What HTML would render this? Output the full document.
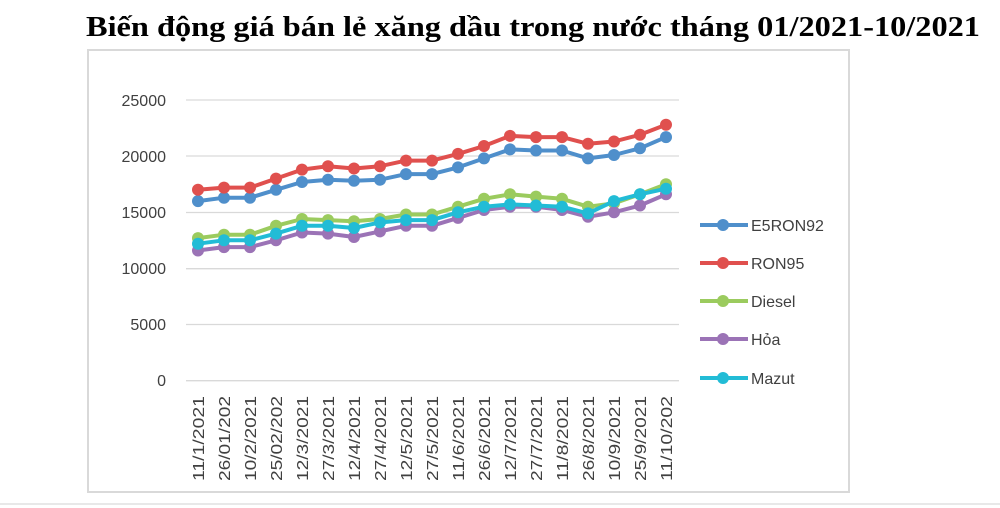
<!DOCTYPE html>
<html><head><meta charset="utf-8"><style>
html,body{margin:0;padding:0;background:#fff;}
svg{display:block;}
</style></head><body>
<svg width="1000" height="508" viewBox="0 0 1000 508" xmlns="http://www.w3.org/2000/svg">
<text x="86" y="36" font-family="Liberation Serif, serif" font-weight="bold" font-size="29" textLength="894" lengthAdjust="spacingAndGlyphs" fill="#000">Biến động giá bán lẻ xăng dầu trong nước tháng 01/2021-10/2021</text>
<rect x="88" y="50" width="761" height="442" fill="#fff" stroke="#d9d9d9" stroke-width="2"/>
<line x1="0" y1="504" x2="1000" y2="504" stroke="#e0e0e0" stroke-width="1.5"/>
<g stroke="#d9d9d9" stroke-width="1.3">
<line x1="186" y1="100" x2="679" y2="100"/>
<line x1="186" y1="156" x2="679" y2="156"/>
<line x1="186" y1="212.5" x2="679" y2="212.5"/>
<line x1="186" y1="268.7" x2="679" y2="268.7"/>
<line x1="186" y1="324.5" x2="679" y2="324.5"/>
<line x1="186" y1="380.7" x2="679" y2="380.7"/>
</g>
<g font-family="Liberation Sans, sans-serif" font-size="16" fill="#404040" text-anchor="end">
<text x="166" y="106">25000</text>
<text x="166" y="162">20000</text>
<text x="166" y="218">15000</text>
<text x="166" y="274">10000</text>
<text x="166" y="330">5000</text>
<text x="166" y="386">0</text>
</g>
<g id="xl" font-family="Liberation Sans, sans-serif" font-size="16" fill="#404040"></g>
<g id="series"></g>
<g font-family="Liberation Sans, sans-serif" font-size="16" fill="#404040">
<line x1="700" y1="225" x2="748" y2="225" stroke="#4f8fcb" stroke-width="4"/><circle cx="723" cy="225" r="6" fill="#4f8fcb"/><text x="751" y="231">E5RON92</text>
<line x1="700" y1="263" x2="748" y2="263" stroke="#e0504e" stroke-width="4"/><circle cx="723" cy="263" r="6" fill="#e0504e"/><text x="751" y="269">RON95</text>
<line x1="700" y1="301" x2="748" y2="301" stroke="#9bcb5e" stroke-width="4"/><circle cx="723" cy="301" r="6" fill="#9bcb5e"/><text x="751" y="307">Diesel</text>
<line x1="700" y1="339" x2="748" y2="339" stroke="#9b73b6" stroke-width="4"/><circle cx="723" cy="339" r="6" fill="#9b73b6"/><text x="751" y="345">Hỏa</text>
<line x1="700" y1="378" x2="748" y2="378" stroke="#22bcd6" stroke-width="4"/><circle cx="723" cy="378" r="6" fill="#22bcd6"/><text x="751" y="384">Mazut</text>
</g>
</svg>
<script>
var ns="http://www.w3.org/2000/svg";
var labels=["11/1/2021","26/01/202","10/2/2021","25/02/202","12/3/2021","27/3/2021","12/4/2021","27/4/2021","12/5/2021","27/5/2021","11/6/2021","26/6/2021","12/7/2021","27/7/2021","11/8/2021","26/8/2021","10/9/2021","25/9/2021","11/10/202"];
function X(i){return 198+i*26;}
function Y(v){return 380.7-v*(280.7/25000);}
var xl=document.getElementById("xl");
labels.forEach(function(l,i){var t=document.createElementNS(ns,"text");var x=X(i)+6,y=481;t.setAttribute("x",x);t.setAttribute("y",y);t.setAttribute("textLength","85");t.setAttribute("lengthAdjust","spacingAndGlyphs");t.setAttribute("transform","rotate(-90 "+x+" "+y+")");t.textContent=l;xl.appendChild(t);});
var S=[
["#4f8fcb",[16000,16300,16300,17000,17700,17900,17800,17900,18400,18400,19000,19800,20600,20500,20500,19800,20100,20700,21700]],
["#e0504e",[17000,17200,17200,18000,18800,19100,18900,19100,19600,19600,20200,20900,21800,21700,21700,21100,21300,21900,22800]],
["#9bcb5e",[12700,13000,13000,13800,14400,14300,14200,14400,14800,14800,15500,16200,16600,16400,16200,15500,15800,16600,17500]],
["#9b73b6",[11600,11900,11900,12500,13200,13100,12800,13300,13800,13800,14500,15200,15500,15500,15200,14600,15000,15600,16600]],
["#22bcd6",[12200,12500,12500,13100,13800,13800,13600,14100,14300,14300,15000,15500,15700,15600,15500,14900,16000,16600,17100]]];
var g=document.getElementById("series");
S.forEach(function(s){var p=document.createElementNS(ns,"polyline");p.setAttribute("points",s[1].map(function(v,i){return X(i)+","+Y(v).toFixed(1);}).join(" "));p.setAttribute("fill","none");p.setAttribute("stroke",s[0]);p.setAttribute("stroke-width","4");p.setAttribute("stroke-linejoin","round");g.appendChild(p);
s[1].forEach(function(v,i){var c=document.createElementNS(ns,"circle");c.setAttribute("cx",X(i));c.setAttribute("cy",Y(v).toFixed(1));c.setAttribute("r","6");c.setAttribute("fill",s[0]);g.appendChild(c);});});
</script>
</body></html>
